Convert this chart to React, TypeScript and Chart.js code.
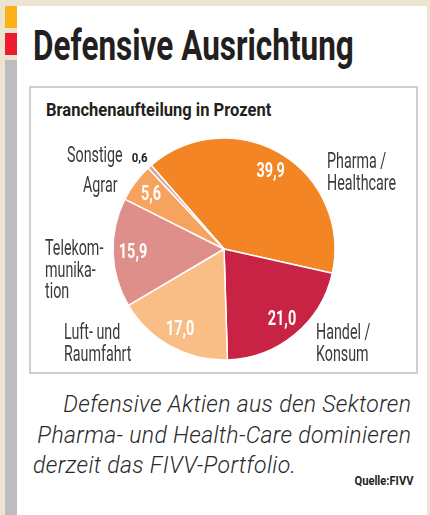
import React, { useEffect, useRef } from "react";
import { Chart, registerables } from "chart.js";

Chart.register(...registerables);

// ---- data ----
const categories = [
  "Pharma / Healthcare",
  "Handel / Konsum",
  "Luft- und Raumfahrt",
  "Telekommunikation",
  "Agrar",
  "Sonstige",
];
const labelLines = [
  ["Pharma /", "Healthcare"],
  ["Handel /", "Konsum"],
  ["Luft- und", "Raumfahrt"],
  ["Telekom-", "munika-", "tion"],
  ["Agrar"],
  ["Sonstige"],
];
const values = [39.9, 21.0, 17.0, 15.9, 5.6, 0.6];
const sliceColors = ["#f48524", "#c82245", "#f9bd86", "#de8f8a", "#f6a35f", "#d8a2a2"];

const title = "Defensive Ausrichtung";
const subtitle = "Branchenaufteilung in Prozent";
const captionLines = [
  "Defensive Aktien aus den Sektoren",
  "Pharma- und Health-Care dominieren",
  "derzeit das FIVV-Portfolio.",
];
const source = "Quelle:FIVV";

// ---- label styling (offsets from pie centre, px) ----
const labelOffsets = [
  { dx: 103, dy: -81 },
  { dx: 92, dy: 90 },
  { dx: -160, dy: 90 },
  { dx: -179, dy: 6 },
  { dx: -141, dy: -57 },
  { dx: -157, dy: -87 },
];
const valueOutside = [false, false, false, false, false, true];
const LABEL_FONT = "400 22.5px Roboto";
const LABEL_SCALE = 0.635;
const LABEL_LINE = 21.5;
const VALUE_FONT = "700 19.5px Roboto";
const VALUE_SCALE = 0.74;
const SMALL_VALUE_FONT = "700 13.5px Roboto";
const SMALL_VALUE_SCALE = 0.85;

const fmt = (v: number) => v.toFixed(1).replace(".", ",");

function drawScaled(ctx: CanvasRenderingContext2D, text: string, x: number, y: number, sx: number) {
  ctx.save();
  ctx.translate(x, y);
  ctx.scale(sx, 1);
  ctx.fillText(text, 0, 0);
  ctx.restore();
}

const pieLabelPlugin = {
  id: "pieLabels",
  afterDatasetsDraw(chart: any) {
    const ctx: CanvasRenderingContext2D = chart.ctx;
    const meta = chart.getDatasetMeta(0);
    meta.data.forEach((arc: any, i: number) => {
      const p = arc.getProps(["x", "y", "startAngle", "endAngle", "outerRadius"], true);
      const mid = (p.startAngle + p.endAngle) / 2;
      const off = labelOffsets[i];
      ctx.save();
      ctx.fillStyle = "#3a3a3a";
      ctx.font = LABEL_FONT;
      ctx.textAlign = "left";
      ctx.textBaseline = "alphabetic";
      let lastWidth = 0;
      labelLines[i].forEach((line, k) => {
        drawScaled(ctx, line, p.x + off.dx, p.y + off.dy + k * LABEL_LINE, LABEL_SCALE);
        lastWidth = ctx.measureText(line).width * LABEL_SCALE;
      });
      ctx.restore();
      ctx.save();
      if (valueOutside[i]) {
        ctx.fillStyle = "#231f20";
        ctx.font = SMALL_VALUE_FONT;
        ctx.textAlign = "left";
        ctx.textBaseline = "alphabetic";
        drawScaled(ctx, fmt(values[i]), p.x + off.dx + lastWidth + 9, p.y + off.dy, SMALL_VALUE_SCALE);
      } else {
        const r = p.outerRadius * 0.82;
        ctx.fillStyle = "#ffffff";
        ctx.font = VALUE_FONT;
        ctx.textAlign = "center";
        ctx.textBaseline = "middle";
        drawScaled(ctx, fmt(values[i]), p.x + Math.cos(mid) * r, p.y + Math.sin(mid) * r + 1, VALUE_SCALE);
      }
      ctx.restore();
    });
  },
};

function PieChart() {
  const ref = useRef<HTMLCanvasElement>(null);
  useEffect(() => {
    if (!ref.current) return;
    const chart = new Chart(ref.current, {
      type: "pie",
      data: {
        labels: categories,
        datasets: [
          {
            data: values,
            backgroundColor: sliceColors,
            borderColor: "#ffffff",
            borderWidth: 1.5,
          },
        ],
      },
      options: {
        responsive: false,
        animation: false,
        rotation: -41,
        radius: 111,
        layout: { padding: { left: 2, right: 0, top: 52, bottom: 13 } },
        plugins: {
          legend: { display: false },
          tooltip: { enabled: false },
          title: { display: false },
        },
      },
      plugins: [pieLabelPlugin],
    } as any);
    return () => chart.destroy();
  }, []);
  return (
    <canvas
      ref={ref}
      width={386}
      height={285}
      style={{ position: "absolute", left: 30, top: 87, width: 386, height: 285 }}
    />
  );
}

function Txt(props: {
  text: string;
  left?: number;
  right?: number;
  baseline: number;
  size: number;
  weight?: number;
  italic?: boolean;
  scale?: number;
  color?: string;
  spacing?: number;
}) {
  const {
    text,
    left,
    right,
    baseline,
    size,
    weight = 400,
    italic = false,
    scale = 1,
    color = "#231f20",
    spacing = 0,
  } = props;
  const top = baseline - 0.842 * size;
  const style: React.CSSProperties = {
    position: "absolute",
    top,
    whiteSpace: "nowrap",
    fontFamily: "Roboto",
    fontSize: size,
    lineHeight: `${size}px`,
    fontWeight: weight,
    fontStyle: italic ? "italic" : "normal",
    letterSpacing: spacing,
    color,
    transform: `scaleX(${scale})`,
    transformOrigin: right !== undefined ? "right center" : "left center",
  };
  if (right !== undefined) style.right = right - spacing;
  else style.left = left;
  return <div style={style}>{text}</div>;
}

export default function App() {
  return (
    <div
      style={{
        position: "fixed",
        left: 0,
        top: 0,
        width: 430,
        height: 515,
        background: "#ece4d0",
        overflow: "hidden",
      }}
    >
      <div style={{ position: "absolute", left: 5, top: 6, width: 12, height: 22, background: "#fbb117" }} />
      <div style={{ position: "absolute", left: 5, top: 33, width: 12, height: 22, background: "#ed1c2e" }} />
      <div style={{ position: "absolute", left: 5, top: 60, width: 12, height: 455, background: "#bcbdc0" }} />
      <div style={{ position: "absolute", left: 17, top: 6, width: 410, height: 509, background: "#ffffff" }} />
      <Txt text={title} left={33} baseline={60} size={42} weight={700} scale={0.75} />
      <div
        style={{
          position: "absolute",
          left: 29,
          top: 86,
          width: 385,
          height: 284,
          border: "2px solid #cfcfcf",
          background: "#ffffff",
        }}
      />
      <Txt text={subtitle} left={46} baseline={116} size={19} weight={700} scale={0.87} />
      <PieChart />
      <Txt text={captionLines[0]} right={19} baseline={412} size={23} italic weight={300} spacing={0.35} color="#2a2a2a" />
      <Txt text={captionLines[1]} right={19} baseline={443} size={23} italic weight={300} spacing={0.35} color="#2a2a2a" />
      <Txt text={captionLines[2]} left={33} baseline={473} size={23} italic weight={300} spacing={0.35} color="#2a2a2a" />
      <Txt text={source} right={17} baseline={485} size={12} weight={700} scale={0.93} />
    </div>
  );
}
